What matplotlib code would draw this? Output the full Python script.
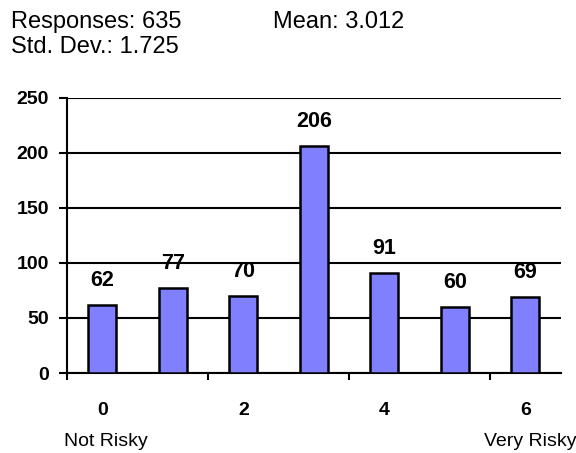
import matplotlib

matplotlib.use("Agg")
import matplotlib.pyplot as plt
import numpy as np

plt.rcParams["font.family"] = ["Liberation Sans", "DejaVu Sans"]

# survey answers on a 0..6 risk scale
scores = [0, 1, 2, 3, 4, 5, 6]
counts = [62, 77, 70, 206, 91, 60, 69]
tick_labels = ["0", "2", "4", "6"]
y_ticks = [0, 50, 100, 150, 200, 250]
stats_lines = ["Responses: 635", "Mean: 3.012", "Std. Dev.: 1.725"]
end_labels = ["Not Risky", "Very Risky"]

fig = plt.figure(figsize=(5.76, 4.53), dpi=100)
ax = fig.add_axes([0.1163, 0.1766, 0.857, 0.6071])

x = np.array(scores)
ax.bar(x, counts, width=0.4, color="#8080FF", edgecolor="black", linewidth=1.8, zorder=3)
for xi, c in zip(x, counts):
    ax.annotate(str(c), (xi, c), xytext=(0, 10), textcoords="offset points",
                ha="center", va="bottom", fontsize=15.5, fontweight="bold")

ax.set_xlim(-0.5, 6.5)
ax.set_ylim(0, 250)
ax.set_yticks(y_ticks)
ax.yaxis.grid(True, color="black", linewidth=1.5, zorder=0)
ax.set_axisbelow(True)

# labels sit under bars 0,2,4,6, tick marks at the category edges
ax.set_xticks(scores[::2])
ax.set_xticklabels(tick_labels)
ax.set_xticks([s - 0.5 for s in scores[::2]], minor=True)
ax.tick_params(axis="x", which="major", length=0, pad=21)
ax.tick_params(axis="x", which="minor", length=5, width=1.5, direction="out")
ax.tick_params(axis="y", length=6, width=1.5, direction="out", pad=7)
for lbl in ax.get_xticklabels() + ax.get_yticklabels():
    lbl.set_fontsize(14)
    lbl.set_fontweight("bold")

for side in ["top", "right"]:
    ax.spines[side].set_visible(False)
for side in ["left", "bottom"]:
    ax.spines[side].set_linewidth(1.5)

fig.text(11 / 576, 1 - 22 / 453, stats_lines[0], fontsize=17, va="center", ha="left")
fig.text(273 / 576, 1 - 22 / 453, stats_lines[1], fontsize=17, va="center", ha="left")
fig.text(11 / 576, 1 - 47 / 453, stats_lines[2], fontsize=17, va="center", ha="left")
fig.text(64 / 576, 1 - 441 / 453, end_labels[0], fontsize=14, va="center", ha="left")
fig.text(576 / 576, 1 - 441 / 453, end_labels[1], fontsize=14, va="center", ha="right")

fig.savefig("out.png", dpi=100, facecolor="white")
